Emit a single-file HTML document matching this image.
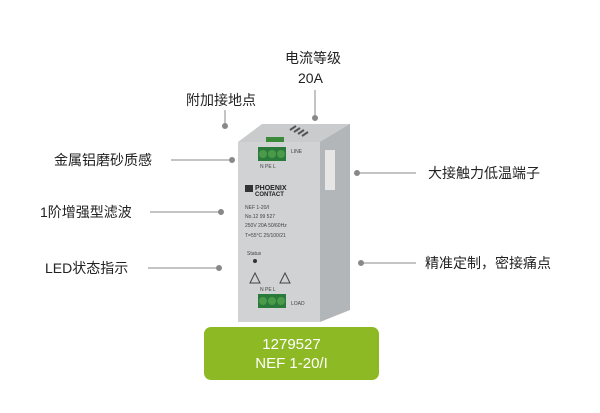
<!DOCTYPE html>
<html><head><meta charset="utf-8"><style>
body{margin:0;background:#fff;width:600px;height:413px;overflow:hidden;position:relative;font-family:"Liberation Sans","Noto Sans CJK SC",sans-serif;}
.t{position:absolute;font-size:14px;color:#222;white-space:nowrap;line-height:16px}
</style></head><body>
<svg width="600" height="413" style="position:absolute;left:0;top:0">
<g stroke="#888" stroke-width="1" fill="#888">
<line x1="315" y1="90" x2="315" y2="118"/><circle cx="315" cy="118" r="2.5"/>
<line x1="225" y1="110" x2="225" y2="126"/><circle cx="225" cy="126" r="2.5"/>
<line x1="171" y1="160" x2="232" y2="160"/><circle cx="232" cy="160" r="2.5"/>
<line x1="357" y1="173" x2="416" y2="173"/><circle cx="357" cy="173" r="2.5"/>
<line x1="150" y1="212" x2="221" y2="212"/><circle cx="221" cy="212" r="2.5"/>
<line x1="361" y1="263" x2="416" y2="263"/><circle cx="361" cy="263" r="2.5"/>
<line x1="148" y1="268" x2="219" y2="268"/><circle cx="219" cy="268" r="2.5"/>
</g>
<polygon points="238,142 262,124 350,124 350,142 320,142" fill="#c9cbcc"/>
<polygon points="320,142 350,124 350,310 320,322" fill="#b3b6b8"/>
<rect x="238" y="142" width="82" height="180" fill="#d0d2d3"/>
<g stroke="#555" stroke-width="2"><line x1="290" y1="130" x2="296" y2="126"/><line x1="294" y1="132" x2="300" y2="128"/><line x1="298" y1="134" x2="304" y2="130"/><line x1="302" y1="136" x2="308" y2="132"/></g>
<rect x="266" y="137" width="18" height="5" fill="#3a8a3a"/>
<rect x="325" y="150" width="10" height="40" fill="#e6e6e6"/>
<rect x="258" y="147" width="28" height="14" fill="#2a7a3a"/>
<circle cx="263" cy="154" r="4" fill="#4a9a4a"/><circle cx="272" cy="154" r="4" fill="#4a9a4a"/><circle cx="281" cy="154" r="4" fill="#4a9a4a"/>
<rect x="258" y="294" width="28" height="14" fill="#2a7a3a"/>
<circle cx="263" cy="301" r="4" fill="#4a9a4a"/><circle cx="272" cy="301" r="4" fill="#4a9a4a"/><circle cx="281" cy="301" r="4" fill="#4a9a4a"/>
<rect x="245" y="185" width="8" height="7" fill="#333"/>
<text x="255" y="190" font-size="7" font-weight="bold" fill="#222" font-family="Liberation Sans">PHOENIX</text>
<text x="255" y="196" font-size="6" font-weight="bold" fill="#222" font-family="Liberation Sans">CONTACT</text>
<g font-size="5" fill="#444" font-family="Liberation Sans">
<text x="291" y="153">LINE</text><text x="260" y="168">N  PE  L</text>
<text x="245" y="209">NEF 1-20/I</text><text x="245" y="218">No.12 99 527</text>
<text x="245" y="227">250V 20A   50/60Hz</text><text x="245" y="237">T=55°C  25/100/21</text>
<text x="247" y="255">Status</text><text x="291" y="305">LOAD</text><text x="260" y="291">N  PE  L</text>
</g>
<circle cx="255" cy="261" r="2" fill="#333"/>
<polygon points="250,283 255,273 260,283" fill="none" stroke="#444"/>
<polygon points="280,283 285,273 290,283" fill="none" stroke="#444"/>
<rect x="204" y="327" width="175" height="53" rx="7" fill="#8dba24"/>
<text x="291.5" y="349" font-size="15" fill="#fff" text-anchor="middle" font-family="Liberation Sans">1279527</text>
<text x="291.5" y="368" font-size="15" fill="#fff" text-anchor="middle" font-family="Liberation Sans">NEF 1-20/I</text>
</svg>
<div class="t" style="left:285px;top:50px">电流等级</div>
<div class="t" style="left:298px;top:70px">20A</div>
<div class="t" style="left:186px;top:92px">附加接地点</div>
<div class="t" style="left:54px;top:152px">金属铝磨砂质感</div>
<div class="t" style="left:428px;top:165px">大接触力低温端子</div>
<div class="t" style="left:40px;top:204px">1阶增强型滤波</div>
<div class="t" style="left:425px;top:255px">精准定制，密接痛点</div>
<div class="t" style="left:45px;top:260px">LED状态指示</div>
</body></html>
